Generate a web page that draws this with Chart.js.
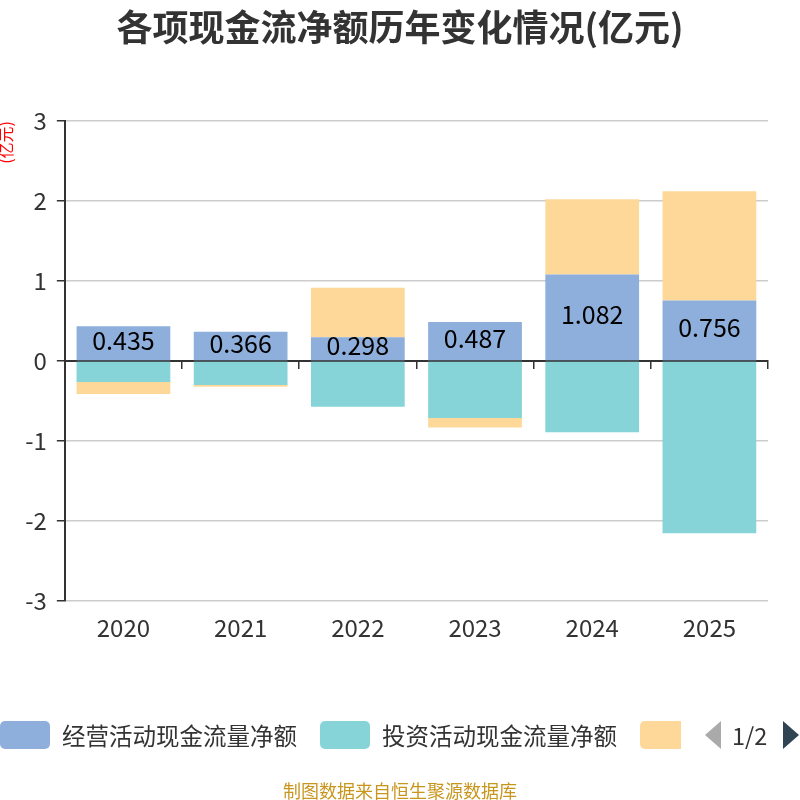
<!DOCTYPE html>
<html>
<head>
<meta charset="utf-8">
<script src="https://cdn.jsdelivr.net/npm/chart.js@4.4.0/dist/chart.umd.min.js"></script>
<style>
  body { margin: 0; background: #fff; font-family: "Noto Sans CJK SC", sans-serif; }
  #wrap { position: relative; width: 800px; height: 800px; overflow: hidden; }
  #title { position: absolute; top: 7px; left: 0; width: 800px; line-height: 36px; text-align: center; font-size: 36px; font-weight: bold; color: #333; }
  #legend { position: absolute; top: 715px; left: 0; width: 800px; height: 40px; font-size: 23.5px; color: #333; }
  .item { position: absolute; top: 0; height: 40px; display: flex; align-items: center; white-space: nowrap; }
  .box { width: 50px; height: 28px; border-radius: 5px; margin-right: 12px; flex: none; }
  #footer { position: absolute; top: 777px; left: 0; width: 800px; text-align: center; font-size: 18px; color: #c8961f; }
</style>
</head>
<body>
<div id="wrap">
  <div id="title">各项现金流净额历年变化情况(亿元)</div>
  <canvas id="chart" width="800" height="800"></canvas>
  <div id="legend">
    <div class="item" style="left:0"><span class="box" style="background:#8eaedb"></span>经营活动现金流量净额</div>
    <div class="item" style="left:320px"><span class="box" style="background:#86d4d7"></span>投资活动现金流量净额</div>
    <div class="item" style="left:640px; width:41px; overflow:hidden"><span class="box" style="background:#fed898"></span>筹资活动现金流量净额</div>
    <div class="item" style="left:703px">
      <svg width="20" height="30"><polygon points="18,1 18,29 2,15" fill="#aaa"/></svg>
      <span style="margin-left:9px">1/2</span>
    </div>
    <div class="item" style="left:781px"><svg width="20" height="30"><polygon points="2,1 2,29 18,15" fill="#2f4554"/></svg></div>
  </div>
  <div id="footer">制图数据来自恒生聚源数据库</div>
</div>
<script>
var years = ["2020", "2021", "2022", "2023", "2024", "2025"];
var operating = [0.435, 0.366, 0.298, 0.487, 1.082, 0.756];
var investing = [-0.26, -0.30, -0.57, -0.71, -0.89, -2.15];
var financing = [-0.15, -0.02, 0.62, -0.12, 0.94, 1.365];
var yTicks = [-3, -2, -1, 0, 1, 2, 3];

// 经营活动柱子中间的数值
var barLabels = {
  id: 'barLabels',
  afterDatasetsDraw: function(chart) {
    var ctx = chart.ctx;
    var meta = chart.getDatasetMeta(0);
    ctx.save();
    ctx.font = '25px "Noto Sans CJK SC"';
    ctx.fillStyle = '#000';
    ctx.textAlign = 'center';
    ctx.textBaseline = 'middle';
    meta.data.forEach(function(bar, i) {
      ctx.fillText(operating[i].toFixed(3), bar.x, (bar.y + bar.base) / 2 - 3);
    });
    ctx.restore();
  }
};

new Chart(document.getElementById('chart'), {
  type: 'bar',
  data: {
    labels: years,
    datasets: [
      { label: '经营活动现金流量净额', data: operating, backgroundColor: '#8eaedb' },
      { label: '投资活动现金流量净额', data: investing, backgroundColor: '#86d4d7' },
      { label: '筹资活动现金流量净额', data: financing, backgroundColor: '#fed898' }
    ]
  },
  options: {
    responsive: false,
    animation: false,
    layout: { padding: { top: 121, right: 32, bottom: 154, left: -4 } },
    datasets: { bar: { barPercentage: 0.8, categoryPercentage: 1 } },
    plugins: { legend: { display: false }, tooltip: { enabled: false } },
    scales: {
      x: {
        stacked: true,
        grid: { display: false },
        border: { display: false },
        ticks: { color: '#333', font: { size: 24, family: 'Noto Sans CJK SC' }, padding: 4 }
      },
      x2: {
        type: 'category',
        labels: years,
        position: { y: 0 },
        grid: { drawOnChartArea: false, drawTicks: true, tickLength: 7, color: '#333', lineWidth: 1.5 },
        border: { display: true, color: '#333', width: 2 },
        ticks: { display: false }
      },
      y: {
        stacked: true,
        min: -3,
        max: 3,
        afterBuildTicks: function(scale) {
          scale.ticks = yTicks.map(function(v) { return { value: v }; });
        },
        grid: {
          color: function(c) { return c.tick && c.tick.value === 0 ? 'rgba(0,0,0,0)' : '#ccc'; },
          lineWidth: 1.5,
          tickColor: '#333',
          tickLength: 8
        },
        border: { display: true, color: '#333', width: 2 },
        ticks: { color: '#333', font: { size: 24, family: 'Noto Sans CJK SC' }, padding: 10 },
        title: { display: true, text: '(亿元)', align: 'end', color: 'red', font: { size: 16, family: 'Noto Sans CJK SC' }, padding: { top: 0, bottom: 0 } }
      }
    }
  },
  plugins: [barLabels]
});
</script>
</body>
</html>
